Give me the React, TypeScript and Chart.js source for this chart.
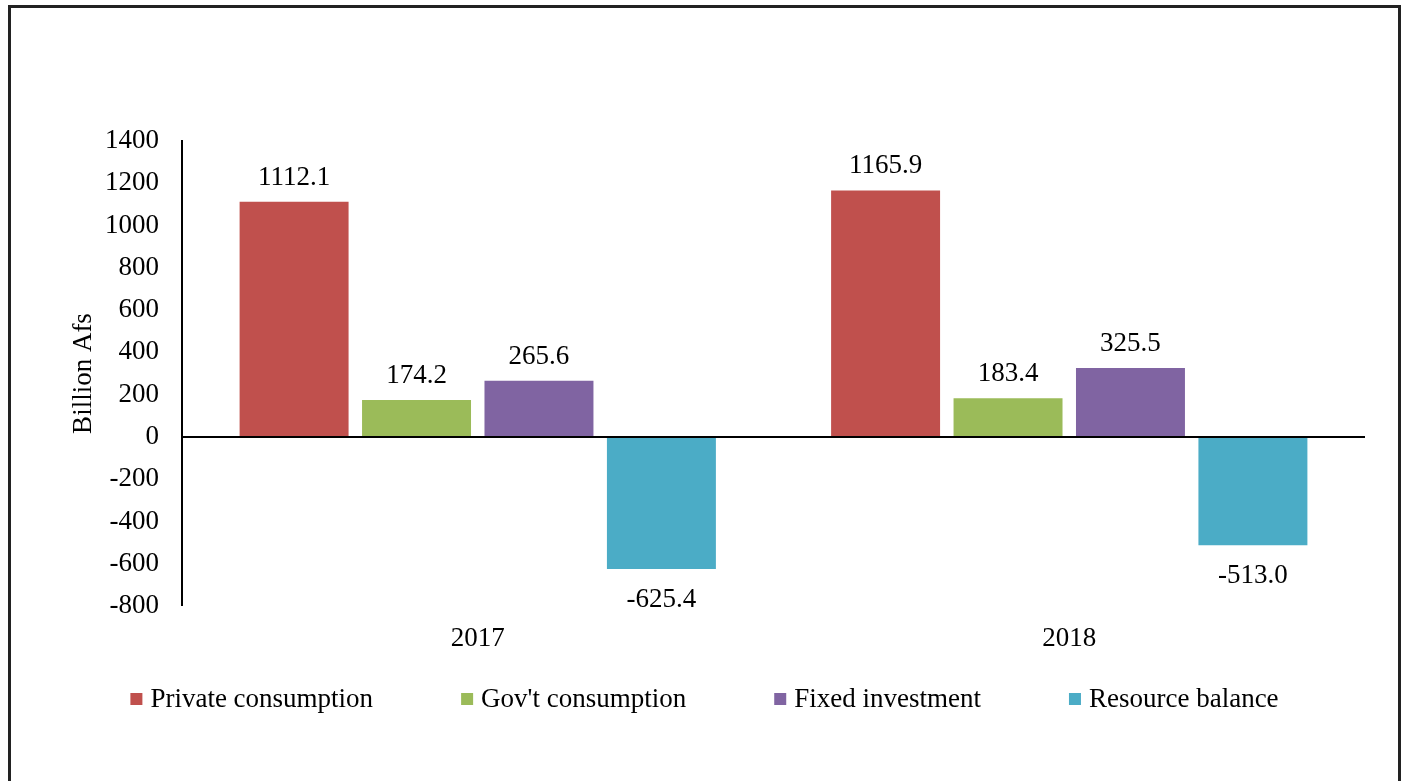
import React, { useEffect, useRef } from "react";
import { Chart, registerables } from "chart.js";

Chart.register(...registerables);

const categories = ["2017", "2018"];
const seriesNames = ["Private consumption", "Gov't consumption", "Fixed investment", "Resource balance"];
const privateConsumption = [1112.1, 1165.9];
const govConsumption = [174.2, 183.4];
const fixedInvestment = [265.6, 325.5];
const resourceBalance = [-625.4, -513.0];
const seriesColors = ["#C0504D", "#9BBB59", "#8064A2", "#4BACC6"];
const yTicks = { min: -800, max: 1400, step: 200 };
const axisTitle = "Billion Afs";

const FONT = '"Liberation Serif", "Times New Roman", serif';
const FS = 27;

const valueLabels = {
  id: "valueLabels",
  afterDatasetsDraw(chart: any) {
    const ctx = chart.ctx;
    ctx.save();
    ctx.font = `${FS}px ${FONT}`;
    ctx.fillStyle = "#000";
    ctx.textAlign = "center";
    ctx.textBaseline = "alphabetic";
    chart.data.datasets.forEach((ds: any, i: number) => {
      const meta = chart.getDatasetMeta(i);
      meta.data.forEach((bar: any, j: number) => {
        const v = ds.data[j];
        const y = v >= 0 ? bar.y - 17 : bar.y + 38;
        ctx.fillText(v.toFixed(1), bar.x, y);
      });
    });
    ctx.restore();
  },
};

// Legend row drawn from the datasets' labels and colours
const legendRow = {
  id: "legendRow",
  afterDraw(chart: any) {
    const ctx = chart.ctx;
    const box = 12;
    const textGap = 8;
    const itemGap = 88;
    const baseline = 699;
    const boxCenter = 691;
    ctx.save();
    ctx.font = `${FS}px ${FONT}`;
    ctx.textBaseline = "alphabetic";
    ctx.textAlign = "left";
    const items = chart.data.datasets.map((ds: any) => ({
      label: ds.label,
      color: ds.backgroundColor,
      w: box + textGap + ctx.measureText(ds.label).width,
    }));
    const total = items.reduce((s: number, it: any) => s + it.w, 0) + itemGap * (items.length - 1);
    let x = chart.width / 2 - total / 2;
    items.forEach((it: any) => {
      ctx.fillStyle = it.color;
      ctx.fillRect(x, boxCenter - box / 2, box, box);
      ctx.fillStyle = "#000";
      ctx.fillText(it.label, x + box + textGap, baseline);
      x += it.w + itemGap;
    });
    ctx.restore();
  },
};

export default function App() {
  const ref = useRef<HTMLCanvasElement>(null);
  useEffect(() => {
    if (!ref.current) return;
    const values = [privateConsumption, govConsumption, fixedInvestment, resourceBalance];
    const chart = new Chart(ref.current, {
      type: "bar",
      data: {
        labels: categories,
        datasets: seriesNames.map((name, i) => ({
          label: name,
          data: values[i],
          backgroundColor: seriesColors[i],
          borderWidth: 0,
          categoryPercentage: 0.828,
          barPercentage: 0.89,
        })),
      },
      options: {
        responsive: false,
        animation: false,
        devicePixelRatio: 1,
        layout: { padding: { left: 57, right: 33, top: 133, bottom: 0 } },
        plugins: {
          tooltip: { enabled: false },
          legend: { display: false },
        },
        scales: {
          x: {
            grid: { display: false, drawTicks: false },
            border: { display: false },
            ticks: { color: "#000", font: { family: FONT, size: FS }, padding: 17 },
            afterFit(scale: any) {
              scale.height = 175;
            },
          },
          y: {
            min: yTicks.min,
            max: yTicks.max,
            title: {
              display: true,
              text: axisTitle,
              color: "#000",
              font: { family: FONT, size: FS },
              padding: { top: 0, bottom: 0 },
            },
            border: { display: true, color: "#000", width: 2 },
            grid: {
              drawTicks: false,
              color: (c: any) => (c.tick && c.tick.value === 0 ? "#000" : "rgba(0,0,0,0)"),
              lineWidth: (c: any) => (c.tick && c.tick.value === 0 ? 2 : 0),
            },
            ticks: {
              stepSize: yTicks.step,
              autoSkip: false,
              color: "#000",
              font: { family: FONT, size: FS },
              padding: 23,
              callback: (v: any) => String(v),
            },
            afterFit(scale: any) {
              scale.width = 114;
            },
          },
        },
      },
      plugins: [valueLabels, legendRow],
    });
    return () => chart.destroy();
  }, []);

  return (
    <div
      style={{
        position: "absolute",
        left: 8,
        top: 5,
        width: 1387,
        height: 800,
        border: "3px solid #222",
        background: "#fff",
      }}
    >
      <canvas ref={ref} width={1387} height={773} style={{ display: "block" }} />
    </div>
  );
}
